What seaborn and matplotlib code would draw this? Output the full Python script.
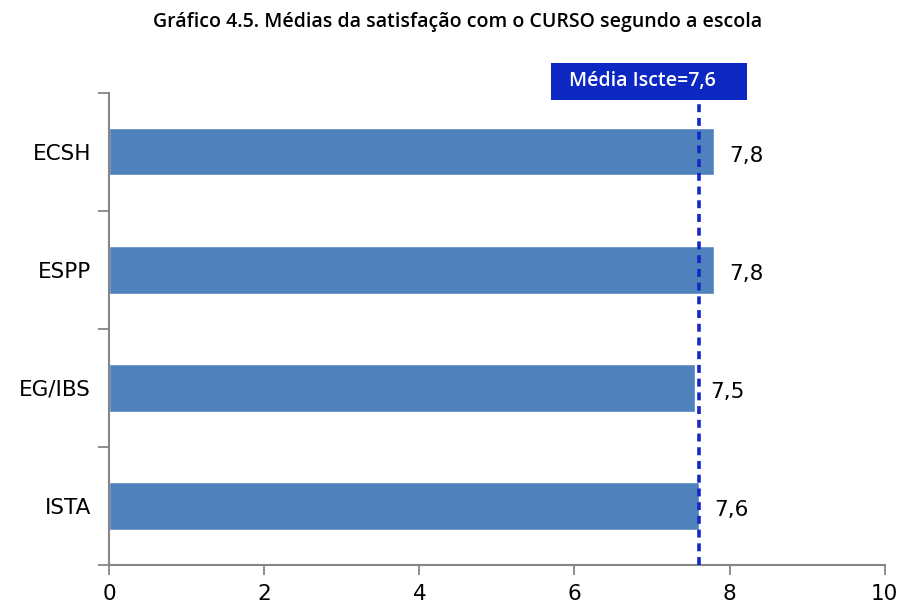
import matplotlib
matplotlib.use("Agg")
import matplotlib.pyplot as plt
from matplotlib.patches import Rectangle
from matplotlib.ticker import FixedLocator
import pandas as pd
import seaborn as sns

# Data
escolas = ["ECSH", "ESPP", "EG/IBS", "ISTA"]
medias = [7.8, 7.8, 7.55, 7.6]
rotulos = ["7,8", "7,8", "7,5", "7,6"]
media_iscte = 7.6
titulo = "Gráfico 4.5. Médias da satisfação com o CURSO segundo a escola"

df = pd.DataFrame({"escola": escolas, "media": medias})

sns.set_style("white")
plt.rcParams["font.family"] = ["DejaVu Sans"]

fig = plt.figure(figsize=(9.01, 6.03), dpi=100)
ax = fig.add_axes([0.121, 0.063, 0.861, 0.783])

sns.barplot(data=df, x="media", y="escola", orient="h", color="#4F81BD",
            saturation=1, width=0.4, ax=ax)

# valores nas barras
for i, (v, lab) in enumerate(zip(medias, rotulos)):
    ax.annotate(lab, (v, i), xytext=(11, -3), textcoords="offset points",
                ha="left", va="center", fontsize=15.5, color="black")

# linha da média
ax.plot([media_iscte, media_iscte], [0, 0.985], transform=ax.get_xaxis_transform(),
        color="#1428C8", lw=2.6, ls=(0, (2.2, 1.6)), clip_on=False, zorder=5)
box = Rectangle((5.70, 0.985), 2.52, 0.079, transform=ax.get_xaxis_transform(),
                facecolor="#0C27C2", edgecolor="none", clip_on=False, zorder=6)
ax.add_patch(box)
ax.text(6.88, 1.0245, f"Média Iscte={str(media_iscte).replace('.', ',')}",
        transform=ax.get_xaxis_transform(), ha="center", va="center",
        color="white", fontsize=14, family=["Open Sans", "DejaVu Sans"],
        fontweight="semibold", zorder=7)

ax.set_xlim(0, 10)
ax.set_ylim(3.5, -0.5)
ax.set_xticks(range(0, 11, 2))
ax.yaxis.set_minor_locator(FixedLocator([-0.5, 0.5, 1.5, 2.5, 3.5]))
ax.tick_params(axis="y", which="major", left=False, length=0, pad=13,
               labelsize=15.5, labelcolor="black")
ax.tick_params(axis="y", which="minor", left=True, length=8, width=1.3, color="#868686")
ax.tick_params(axis="x", bottom=True, length=7, width=1.3, color="#868686",
               labelsize=15.5, pad=7, labelcolor="black")
ax.set_xlabel("")
ax.set_ylabel("")

for s in ["top", "right"]:
    ax.spines[s].set_visible(False)
for s in ["left", "bottom"]:
    ax.spines[s].set_color("#868686")
    ax.spines[s].set_linewidth(1.5)

fig.text(0.508, 0.963, titulo, ha="center", va="center", fontsize=14,
         family=["Open Sans", "DejaVu Sans"], fontweight="semibold", color="black")

fig.savefig("out.png", dpi=100)
